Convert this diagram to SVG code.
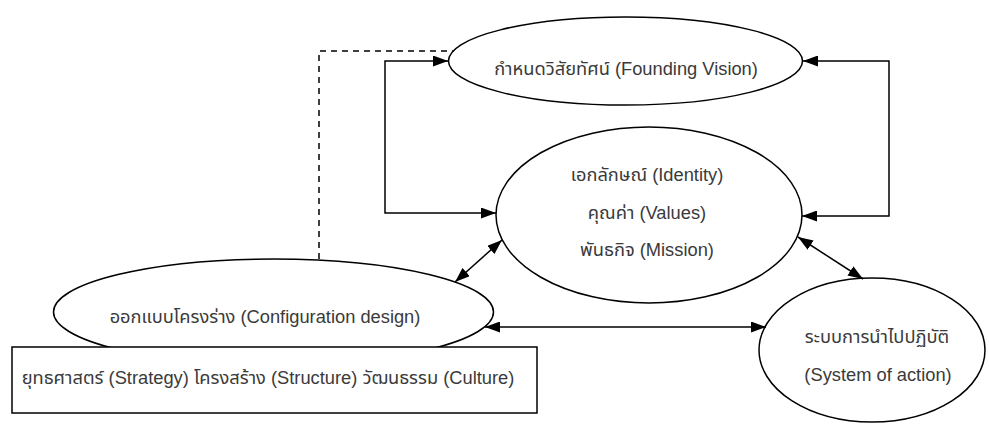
<svg xmlns="http://www.w3.org/2000/svg" width="989" height="424" viewBox="0 0 989 424">
  <style>
    .node { fill: #ffffff; stroke: #000000; stroke-width: 1.5; }
    .label { font-family: "Liberation Sans", "Noto Sans Thai", "Noto Sans", "DejaVu Sans", sans-serif; font-size: 18.3px; fill: #3a3a3a; text-anchor: middle; }
    .link { fill: none; stroke: #000000; stroke-width: 1.5; }
    .dashed { fill: none; stroke: #000000; stroke-width: 1.5; stroke-dasharray: 6 5; }
  </style>
  <defs>
    <marker id="arrow" viewBox="0 0 15 11" refX="15" refY="5.5" markerWidth="15" markerHeight="11" markerUnits="userSpaceOnUse" orient="auto-start-reverse">
      <path d="M0,0 L15,5.5 L0,11 Z" fill="#000000"/>
    </marker>
  </defs>
  <rect width="989" height="424" fill="#ffffff"/>

  <g id="founding-vision">
    <ellipse class="node" cx="625.5" cy="61" rx="177" ry="44"/>
    <text class="label" x="626" y="75">กำหนดวิสัยทัศน์ (Founding Vision)</text>
  </g>

  <g id="identity">
    <ellipse class="node" cx="649" cy="215" rx="153" ry="88"/>
    <text class="label" x="647" y="181">เอกลักษณ์ (Identity)</text>
    <text class="label" x="647" y="219">คุณค่า (Values)</text>
    <text class="label" x="647" y="256">พันธกิจ (Mission)</text>
  </g>

  <g id="system-of-action">
    <ellipse class="node" cx="872" cy="350" rx="113" ry="72"/>
    <text class="label" x="877" y="343">ระบบการนำไปปฏิบัติ</text>
    <text class="label" x="878" y="381">(System of action)</text>
  </g>

  <g id="configuration-design">
    <ellipse class="node" cx="273.5" cy="312" rx="220" ry="53"/>
    <text class="label" x="265" y="323">ออกแบบโครงร่าง (Configuration design)</text>
  </g>

  <g id="components">
    <rect class="node" x="12" y="347" width="525" height="66"/>
    <text class="label" x="268" y="384">ยุทธศาสตร์ (Strategy) โครงสร้าง (Structure) วัฒนธรรม (Culture)</text>
  </g>

  <g id="connectors">
    <polyline class="dashed" points="319,259 319,51 453,51"/>
    <polyline class="link" points="448,61 385,61 385,213 496,213" marker-start="url(#arrow)" marker-end="url(#arrow)"/>
    <polyline class="link" points="803,61 889,61 889,216 802,216" marker-start="url(#arrow)" marker-end="url(#arrow)"/>
    <line class="link" x1="455" y1="282" x2="502" y2="240" marker-start="url(#arrow)" marker-end="url(#arrow)"/>
    <line class="link" x1="798" y1="237" x2="863" y2="279" marker-start="url(#arrow)" marker-end="url(#arrow)"/>
    <line class="link" x1="485" y1="327" x2="766" y2="327" marker-start="url(#arrow)" marker-end="url(#arrow)"/>
  </g>
</svg>
